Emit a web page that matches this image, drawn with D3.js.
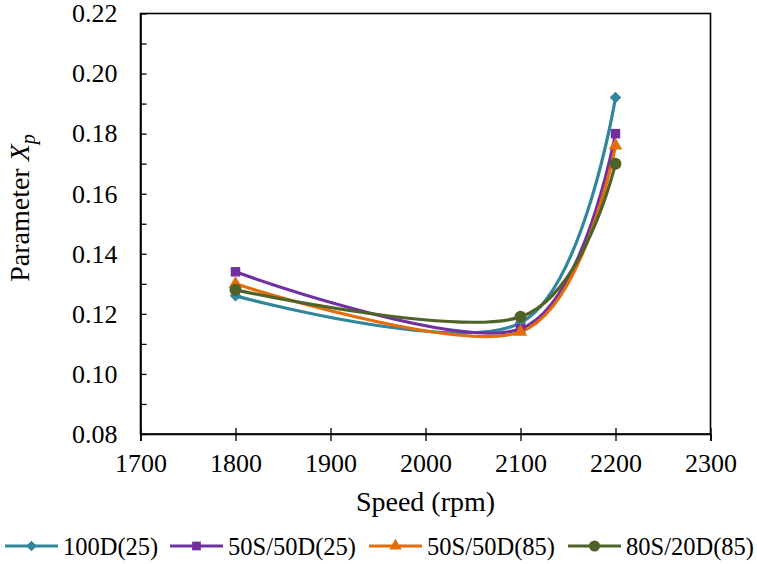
<!DOCTYPE html>
<html>
<head>
<meta charset="utf-8">
<script src="https://cdn.jsdelivr.net/npm/d3@7"></script>
<style>
  html, body { margin: 0; padding: 0; background: #fff; }
  svg { display: block; }
  svg text { font-family: "Liberation Serif", "Times New Roman", Tinos, Times, "DejaVu Serif", serif; fill: #000; }
</style>
</head>
<body>
<svg id="chart" width="757" height="564"></svg>
<script>
// Engine speed (rpm) at which Xp was evaluated
const speeds = [1800, 2100, 2200];

// Parameter Xp for each fuel blend
const seriesNames = ["100D(25)", "50S/50D(25)", "50S/50D(85)", "80S/20D(85)"];
const xp100D25   = [0.126, 0.117, 0.192];
const xp50S50D25 = [0.134, 0.115, 0.180];
const xp50S50D85 = [0.130, 0.114, 0.176];
const xp80S20D85 = [0.128, 0.119, 0.170];

// Axis ticks
const xTicks = [1700, 1800, 1900, 2000, 2100, 2200, 2300];
const yTicks = [0.08, 0.10, 0.12, 0.14, 0.16, 0.18, 0.20, 0.22];
const yMinorTicks = [0.09, 0.11, 0.13, 0.15, 0.17, 0.19, 0.21];

const colors = ["#31859C", "#7030A0", "#E46C0A", "#4F6228"];
const symbols = [d3.symbolDiamond2, d3.symbolSquare, d3.symbolTriangle, d3.symbolCircle];
const symbolSizes = [85, 90, 80, 113];

const serif = '"Liberation Serif", "Times New Roman", Tinos, Times, "DejaVu Serif", serif';

const series = seriesNames.map((name, i) => ({
  name,
  values: [xp100D25, xp50S50D25, xp50S50D85, xp80S20D85][i].map((v, j) => ({ x: speeds[j], y: v })),
  color: colors[i],
  symbol: symbols[i],
  size: symbolSizes[i]
}));

const svg = d3.select("#chart");
const plot = { left: 140.5, right: 710.5, top: 13.5, bottom: 434 };

const x = d3.scaleLinear().domain([1700, 2300]).range([plot.left, plot.right]);
const y = d3.scaleLinear().domain([0.08, 0.22]).range([plot.bottom, plot.top]);

// Plot frame
svg.append("rect")
  .attr("x", plot.left).attr("y", plot.top)
  .attr("width", plot.right - plot.left).attr("height", plot.bottom - plot.top)
  .attr("fill", "none").attr("stroke", "#000").attr("stroke-width", 1.6);

// X axis with ticks crossing the axis line
const xAxis = svg.append("g")
  .attr("transform", `translate(0,${plot.bottom})`)
  .call(d3.axisBottom(x).tickValues(xTicks).tickFormat(d3.format("d")).tickSizeOuter(0).tickSize(7).tickPadding(13));
xAxis.attr("font-family", serif);
xAxis.select(".domain").attr("stroke", "#000").attr("stroke-width", 1.6);
xAxis.selectAll(".tick line").attr("y1", -6).attr("y2", 7).attr("stroke", "#000").attr("stroke-width", 1.3);
xAxis.selectAll(".tick text").attr("font-size", 26);

// Y axis with inward ticks
const yAxis = svg.append("g")
  .attr("transform", `translate(${plot.left},0)`)
  .call(d3.axisLeft(y).tickValues(yTicks).tickFormat(d3.format(".2f")).tickSizeOuter(0).tickSize(0).tickPadding(23));
yAxis.attr("font-family", serif);
yAxis.select(".domain").attr("stroke", "#000").attr("stroke-width", 1.6);
yAxis.selectAll(".tick text").attr("font-size", 26);
yAxis.selectAll(".tick line").attr("x1", 0).attr("x2", 6).attr("stroke", "#000").attr("stroke-width", 1.3);

const yMinor = svg.append("g")
  .attr("transform", `translate(${plot.left},0)`)
  .call(d3.axisLeft(y).tickValues(yMinorTicks).tickFormat("").tickSizeOuter(0).tickSize(0));
yMinor.select(".domain").remove();
yMinor.selectAll(".tick line").attr("x1", 0).attr("x2", 6).attr("stroke", "#000").attr("stroke-width", 1.3);

// Axis titles
svg.append("text")
  .attr("x", (plot.left + plot.right) / 2).attr("y", 511)
  .attr("text-anchor", "middle").attr("font-size", 28)
  .text("Speed (rpm)");

const yTitle = svg.append("text")
  .attr("transform", "translate(29,208) rotate(-90)")
  .attr("text-anchor", "middle").attr("font-size", 28);
yTitle.append("tspan").text("Parameter ");
yTitle.append("tspan").attr("font-style", "italic").text("X");
yTitle.append("tspan").attr("font-style", "italic").attr("font-size", 20).attr("dy", 6).text("p");

// Smoothed series lines
const line = d3.line()
  .x(d => x(d.x))
  .y(d => y(d.y))
  .curve(d3.curveCardinal.tension(0));

const gSeries = svg.append("g");
series.forEach(s => {
  gSeries.append("path")
    .datum(s.values)
    .attr("d", line)
    .attr("fill", "none")
    .attr("stroke", s.color)
    .attr("stroke-width", 3.2);
});
series.forEach(s => {
  gSeries.selectAll(null)
    .data(s.values)
    .join("path")
    .attr("transform", d => `translate(${x(d.x)},${y(d.y)})`)
    .attr("d", d3.symbol().type(s.symbol).size(s.size))
    .attr("fill", s.color);
});

// Legend
const legendX = [5, 170, 369, 568];
const legend = svg.append("g").attr("transform", "translate(0,546)");
series.forEach((s, i) => {
  const g = legend.append("g").attr("transform", `translate(${legendX[i]},0)`);
  g.append("line").attr("x1", 0).attr("x2", 53).attr("y1", 0).attr("y2", 0)
    .attr("stroke", s.color).attr("stroke-width", 3.2);
  g.append("path").attr("transform", "translate(26.5,0)")
    .attr("d", d3.symbol().type(s.symbol).size(s.size * 0.85)).attr("fill", s.color);
  g.append("text").attr("x", 58).attr("y", 9).attr("font-size", 24.5).text(s.name);
});
</script>
</body>
</html>
